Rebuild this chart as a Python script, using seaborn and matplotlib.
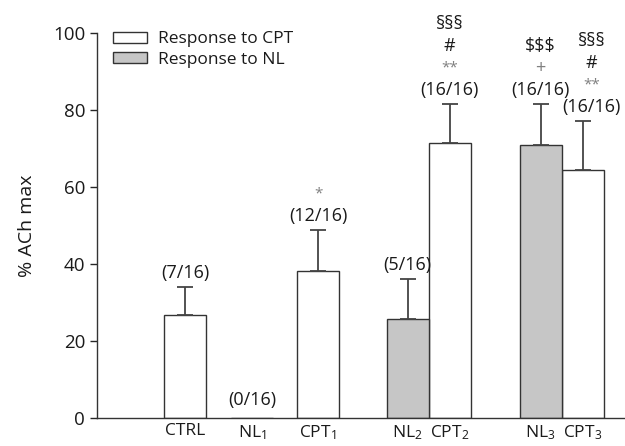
import matplotlib

matplotlib.use("Agg")
import matplotlib.pyplot as plt
import numpy as np
import pandas as pd
import seaborn as sns
from matplotlib.patches import Patch

# data
groups = ["CTRL", "NL$_1$", "CPT$_1$", "NL$_2$", "CPT$_2$", "NL$_3$", "CPT$_3$"]
response = ["CPT", "NL", "CPT", "NL", "CPT", "NL", "CPT"]
mean_ach = [26.8, 0.0, 38.2, 25.7, 71.3, 71.0, 64.4]
sem_ach = [7.2, np.nan, 10.5, 10.5, 10.3, 10.6, 12.8]
counts = ["(7/16)", "(0/16)", "(12/16)", "(5/16)", "(16/16)", "(16/16)", "(16/16)"]
stars = ["", "", "*", "", "**", "", "**"]
marks = [[], [], [], [], ["#", "§§§"], ["+", "$$$"], ["#", "§§§"]]

# layout: bar centres in bar-width units
xpos = [0.0, 1.6, 3.17, 5.3, 6.3, 8.47, 9.47]
label_dx = [0, 0, 0, 0, 0, 0, 9]

sns.set_theme(style="ticks")
plt.rcParams["font.family"] = ["Open Sans", "DejaVu Sans"]
plt.rcParams["mathtext.default"] = "regular"
INK = "#1a1a1a"

df = pd.DataFrame({"x": xpos, "y": mean_ach, "resp": response})
colors = {"CPT": "white", "NL": "#c6c6c6"}

fig = plt.figure(figsize=(6.25, 4.46), dpi=100)
ax = fig.add_axes([0.155, 0.063, 0.845, 0.863])

sns.barplot(data=df, x="x", y="y", hue="resp", palette=colors, native_scale=True,
            dodge=False, width=1.0, errorbar=None, edgecolor="#333333",
            linewidth=1.0, legend=False, ax=ax)

err = np.array(sem_ach)
ok = ~np.isnan(err)
ax.errorbar(np.array(xpos)[ok], np.array(mean_ach)[ok],
            yerr=[np.zeros(ok.sum()), err[ok]], fmt="none", ecolor="#444444",
            elinewidth=1.3, capsize=6, capthick=1.3)

for i, x in enumerate(xpos):
    top = mean_ach[i] + (0 if np.isnan(sem_ach[i]) else sem_ach[i])
    off = 18 if np.isnan(sem_ach[i]) else 14
    dx = label_dx[i] * 0.72
    ax.annotate(counts[i], (x, top), xytext=(dx, off * 0.72), textcoords="offset points",
                ha="center", va="center", fontsize=13, color=INK)
    lines = ([(stars[i], "#808080")] if stars[i] else []) + \
            [(m, "#808080" if m == "+" else INK) for m in marks[i]]
    for k, (txt, col) in enumerate(lines):
        ax.annotate(txt, (x, top), xytext=(dx, (off + 22 * (k + 1)) * 0.72),
                    textcoords="offset points", ha="center", va="center",
                    fontsize=11 if "*" in txt else 13, color=col)

ax.set_xlim(-2.1, 10.48)
ax.set_ylim(0, 100)
ax.set_yticks([0, 20, 40, 60, 80, 100])
ax.set_xticks(xpos)
ax.set_xticklabels(groups)
ax.tick_params(axis="x", length=0, labelsize=12.5, pad=4, labelcolor=INK)
ax.tick_params(axis="y", length=5, labelsize=13.5, width=1, labelcolor=INK)
ax.set_xlabel("")
ax.set_ylabel("% ACh max", fontsize=14, labelpad=12, color=INK)
sns.despine(ax=ax)
for s in ["left", "bottom"]:
    ax.spines[s].set_color("#333333")
    ax.spines[s].set_linewidth(1.0)

handles = [Patch(facecolor=colors["CPT"], edgecolor="#333333", label="Response to CPT"),
           Patch(facecolor=colors["NL"], edgecolor="#333333", label="Response to NL")]
leg = ax.legend(handles=handles, loc="upper left", bbox_to_anchor=(0.0, 1.045), frameon=False,
                fontsize=12.5, handlelength=2.0, handleheight=0.6, handletextpad=0.6,
                labelspacing=0.25)
for t in leg.get_texts():
    t.set_color(INK)

fig.savefig("out.png", dpi=100)
